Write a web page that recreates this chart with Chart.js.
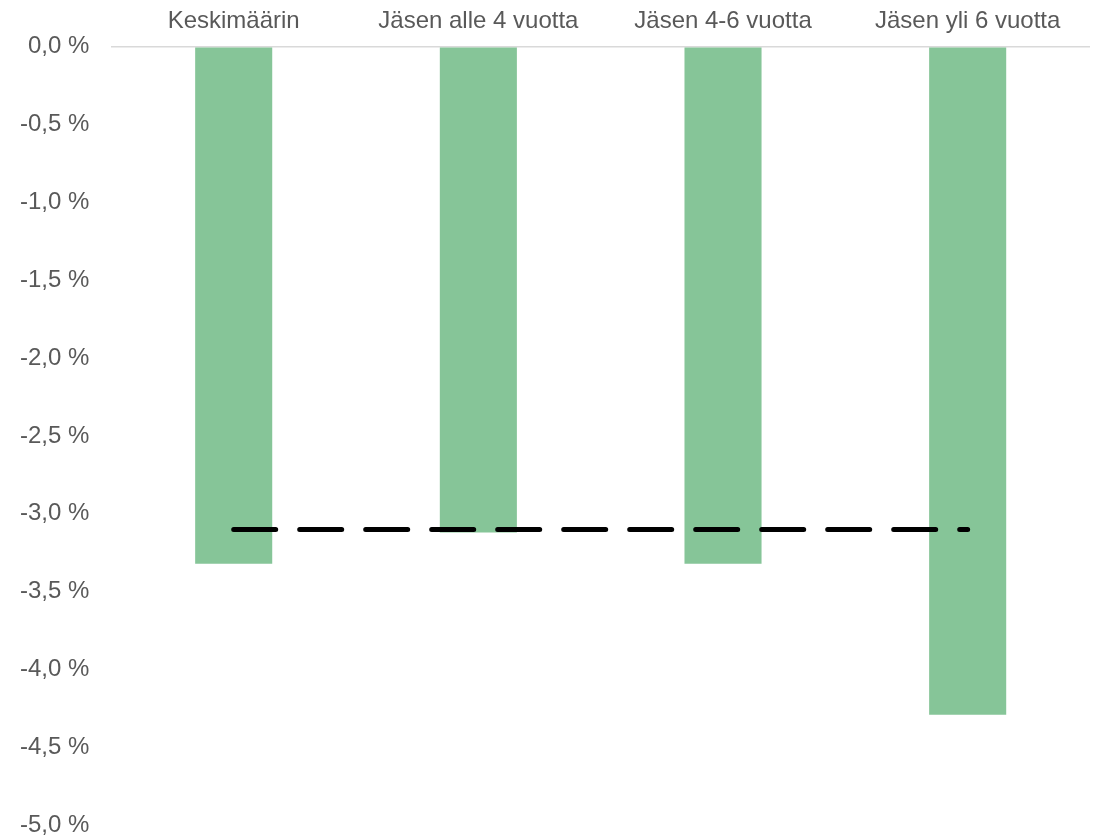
<!DOCTYPE html>
<html>
<head>
<meta charset="utf-8">
<script src="https://cdn.jsdelivr.net/npm/chart.js@4"></script>
<style>
   body { margin: 0; background: #ffffff; }
   #wrap { width: 1099px; height: 836px; position: relative; }
</style>
</head>
<body>
<div id="wrap"><canvas id="chart"></canvas></div>
<script>
// values
const categories = ['Keskimäärin', 'Jäsen alle 4 vuotta', 'Jäsen 4-6 vuotta', 'Jäsen yli 6 vuotta'];
const changeValues = [-3.32, -3.12, -3.32, -4.29];
const averageValues = [-3.1, -3.1, -3.1, -3.1];
const yTicks = [0, -0.5, -1, -1.5, -2, -2.5, -3, -3.5, -4, -4.5, -5];

Chart.defaults.color = '#595959';
Chart.defaults.font.family = "'Liberation Sans', 'Arial', sans-serif";
Chart.defaults.font.size = 24;

function pct(v) {
   return v.toFixed(1).replace('.', ',').replace('-0,0', '0,0') + ' %';
}

new Chart(document.getElementById('chart'), {
   data: {
      labels: categories,
      datasets: [{
         type: 'line',
         data: averageValues,
         borderColor: '#000000',
         borderWidth: 5,
         borderDash: [42, 24],
         borderCapStyle: 'round',
         pointRadius: 0,
         fill: false,
         order: 0
      }, {
         type: 'bar',
         data: changeValues,
         backgroundColor: '#86C598',
         categoryPercentage: 1,
         barPercentage: 0.315,
         order: 1
      }]
   },
   options: {
      animation: false,
      responsive: true,
      maintainAspectRatio: false,
      events: [],
      layout: {
         padding: { left: 20, right: 9, top: 4, bottom: 0 }
      },
      plugins: {
         legend: { display: false },
         tooltip: { enabled: false }
      },
      scales: {
         x: {
            position: 'top',
            grid: { display: false },
            border: { display: false },
            ticks: { padding: 3, maxRotation: 0 }
         },
         y: {
            min: yTicks[yTicks.length - 1],
            max: yTicks[0],
            border: { display: false },
            grid: {
               color: (ctx) => ctx.tick && ctx.tick.value === 0 ? '#D9D9D9' : 'rgba(0,0,0,0)',
               lineWidth: 1.5,
               drawTicks: true,
               tickLength: 22,
               tickColor: 'rgba(0,0,0,0)'
            },
            afterBuildTicks: (axis) => {
               axis.ticks = yTicks.map((v) => ({ value: v }));
            },
            ticks: {
               padding: 0,
               font: { lineHeight: 0.9 },
               callback: (v) => pct(v)
            }
         }
      }
   }
});
</script>
</body>
</html>
